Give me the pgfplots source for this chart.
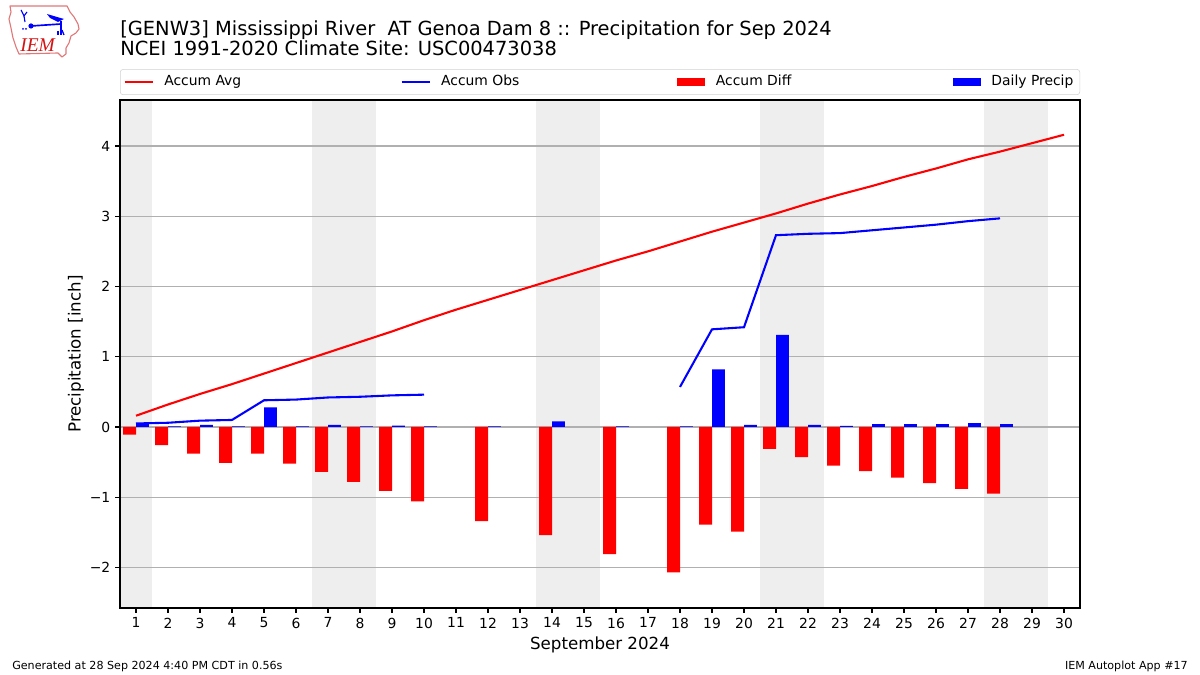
\documentclass[border=0pt]{standalone}
\usepackage{fontspec}
\setmainfont{DejaVu Sans}
\newfontfamily\logofont{Liberation Serif}
\usepackage{pgfplots}
\usepackage{pgfplotstable}
\pgfplotsset{compat=1.18}
\definecolor{wk}{RGB}{238,238,238}
\definecolor{gridc}{RGB}{176,176,176}
\definecolor{legc}{RGB}{210,210,210}
\definecolor{iowa}{RGB}{225,120,120}
\definecolor{iemred}{RGB}{210,20,20}

\pgfplotsset{
  lineleg/.style={legend image code/.code={\draw[##1, sharp corners] (0pt,0pt) -- (20.16pt,0pt);}},
  boxleg/.style={legend image code/.code={\fill[##1, sharp corners] (0pt,-3pt) rectangle (20.16pt,3pt);}},
}

\pgfplotstableread{
day avg obs diff daily
1 0.16 0.05 -0.11 0.05
2 0.32 0.06 -0.26 0.01
3 0.47 0.09 -0.38 0.03
4 0.61 0.10 -0.51 0.01
5 0.76 0.38 -0.38 0.28
6 0.91 0.39 -0.52 0.01
7 1.06 0.42 -0.64 0.03
8 1.21 0.43 -0.78 0.01
9 1.36 0.45 -0.91 0.02
10 1.52 0.46 -1.06 0.01
12 1.81 nan -1.34 0.01
14 2.09 nan -1.54 0.08
16 2.37 nan -1.81 0.01
18 2.64 0.57 -2.07 0.01
19 2.78 1.39 -1.39 0.82
20 2.91 1.42 -1.49 0.03
21 3.04 2.73 -0.31 1.31
22 3.18 2.75 -0.43 0.03
23 3.31 2.76 -0.55 0.015
24 3.43 2.80 -0.63 0.04
25 3.56 2.84 -0.72 0.04
26 3.68 2.88 -0.80 0.04
27 3.81 2.93 -0.88 0.055
28 3.92 2.97 -0.95 0.04
}\data

\pgfplotstableread{
day avg
1 0.16
2 0.32
3 0.47
4 0.61
5 0.76
6 0.91
7 1.06
8 1.21
9 1.36
10 1.52
11 1.67
12 1.81
13 1.95
14 2.09
15 2.23
16 2.37
17 2.50
18 2.64
19 2.78
20 2.91
21 3.04
22 3.18
23 3.31
24 3.43
25 3.56
26 3.68
27 3.81
28 3.92
29 4.04
30 4.16
}\avgdata

\pgfplotstableread{
day obs
1 0.05
2 0.06
3 0.09
4 0.10
5 0.38
6 0.39
7 0.42
8 0.43
9 0.45
10 0.46
}\obsA

\pgfplotstableread{
day obs
18 0.57
19 1.39
20 1.42
21 2.73
22 2.75
23 2.76
24 2.80
25 2.84
26 2.88
27 2.93
28 2.97
}\obsB

\begin{document}
\begin{tikzpicture}
\path (0,0) rectangle (864pt,486pt);

% logo and texts in pixel coordinates (y downward)
\begin{scope}[shift={(0pt,486pt)}, x=0.72pt, y=-0.72pt]
  \draw[iowa, line width=0.8pt, line join=round]
    (10,6) -- (67,6) -- (70,12) -- (74,17) -- (78,24) -- (79,29) -- (76,33)
    -- (71,36) -- (69,43) -- (66,48) -- (66,54) -- (62,57) -- (58,53)
    -- (19,54) -- (16,47) -- (13,38) -- (11,28) -- (9,19) -- (11,12) -- cycle;
  \draw[blue, line width=1.2pt] (31,26) -- (61,24);
  \fill[blue] (31,26) circle (2.6);
  \draw[blue, line width=1.1pt] (61,21) -- (61,35);
  \fill[blue] (47,14) -- (57,17) -- (64,19) -- (58,22) -- (50,18) -- cycle;
  \draw[blue, line width=0.8pt] (21,10) -- (24,16) -- (27,12);
  \draw[blue, line width=0.8pt] (24,16) -- (25,22);
  \fill[blue] (23,29) circle (1);
  \fill[blue] (26,29) circle (1);
  \draw[blue, line width=0.9pt] (62,30) -- (64,35);
  \draw[blue, line width=0.9pt] (58,31) -- (58,35);
  \node[anchor=base west, inner sep=0pt, text=iemred] at (20,52)
    {\logofont\itshape\fontsize{14}{14}\selectfont IEM};

  \node[anchor=base west, inner sep=0pt] at (120,36)
    {\fontsize{14}{16}\selectfont [GENW3] Mississippi River\ \ AT Genoa Dam 8 :: Precipitation for Sep 2024};
  \node[anchor=base west, inner sep=0pt] at (120,56)
    {\fontsize{14}{16}\selectfont NCEI 1991-2020 Climate Site: USC00473038};
  \node[anchor=base west, inner sep=0pt] at (12,670)
    {\fontsize{8}{10}\selectfont Generated at 28 Sep 2024 4:40 PM CDT in 0.56s};
  \node[anchor=base east, inner sep=0pt] at (1188,670)
    {\fontsize{8}{10}\selectfont IEM Autoplot App \#17};
\end{scope}

\begin{axis}[
  set layers,
  scale only axis,
  width=691.2pt, height=365.76pt,
  at={(86.4pt,48.24pt)}, anchor=south west,
  xmin=0.5, xmax=30.5, ymin=-2.577, ymax=4.655,
  xtick={1,...,30}, ytick={-2,-1,0,1,2,3,4},
  yticklabels={−2,−1,0,1,2,3,4},
  tick align=outside, tick pos=left,
  major tick length=3.5pt,
  every tick/.style={black, line width=0.8pt},
  axis line style={line width=0.8pt},
  ymajorgrids,
  major grid style={gridc, line width=0.8pt},
  ticklabel style={font=\fontsize{10}{12}\selectfont},
  /pgf/number format/assume math mode=true,
  xlabel={September 2024},
  ylabel={Precipitation [inch]},
  label style={font=\fontsize{12}{14}\selectfont},
  xlabel style={at={(axis description cs:0.5,0)}, anchor=base, yshift=-30.2pt},
  ylabel style={at={(axis description cs:-0.0459,0.5)}, anchor=center},
  legend columns=4,
  legend cell align=left,
  legend style={
    at={(0,1)}, anchor=south west, yshift=3.6pt,
    draw=legc, rounded corners=2pt, fill=white,
    inner xsep=2.4pt, inner ysep=1.2pt,
    font=\fontsize{10}{12}\selectfont,
    nodes={inner xsep=0pt, inner ysep=3pt, text height=7.6pt, text depth=2.2pt},
    /tikz/every odd column/.append style={column sep=7.6pt},
    /tikz/every even column/.append style={column sep=0pt},
  },
]
% weekend shading
\begin{pgfonlayer}{axis background}
\fill[wk] (axis cs:0.5,-2.577) rectangle (axis cs:1.5,4.655);
\fill[wk] (axis cs:6.5,-2.577) rectangle (axis cs:8.5,4.655);
\fill[wk] (axis cs:13.5,-2.577) rectangle (axis cs:15.5,4.655);
\fill[wk] (axis cs:20.5,-2.577) rectangle (axis cs:22.5,4.655);
\fill[wk] (axis cs:27.5,-2.577) rectangle (axis cs:29.5,4.655);
\end{pgfonlayer}

\addplot[red, line width=1.5pt, mark=none, lineleg]
  table[x=day, y=avg] {\avgdata};
\addlegendentry{\makebox[170.1pt][l]{Accum Avg}}

\addplot[blue, line width=1.5pt, mark=none, lineleg]
  table[x=day, y=obs] {\obsA};
\addlegendentry{\makebox[170.1pt][l]{Accum Obs}}

\addplot[ybar, bar width=0.4, bar shift=-0.2, fill=red, draw=none, boxleg]
  table[x=day, y=diff] {\data};
\addlegendentry{\makebox[170.6pt][l]{Accum Diff}}

\addplot[ybar, bar width=0.4, bar shift=0.2, fill=blue, draw=none, boxleg]
  table[x=day, y=daily] {\data};
\addlegendentry{Daily Precip\hspace*{2.2pt}}

\addplot[blue, line width=1.5pt, mark=none, forget plot]
  table[x=day, y=obs] {\obsB};
\end{axis}
\end{tikzpicture}
\end{document}
